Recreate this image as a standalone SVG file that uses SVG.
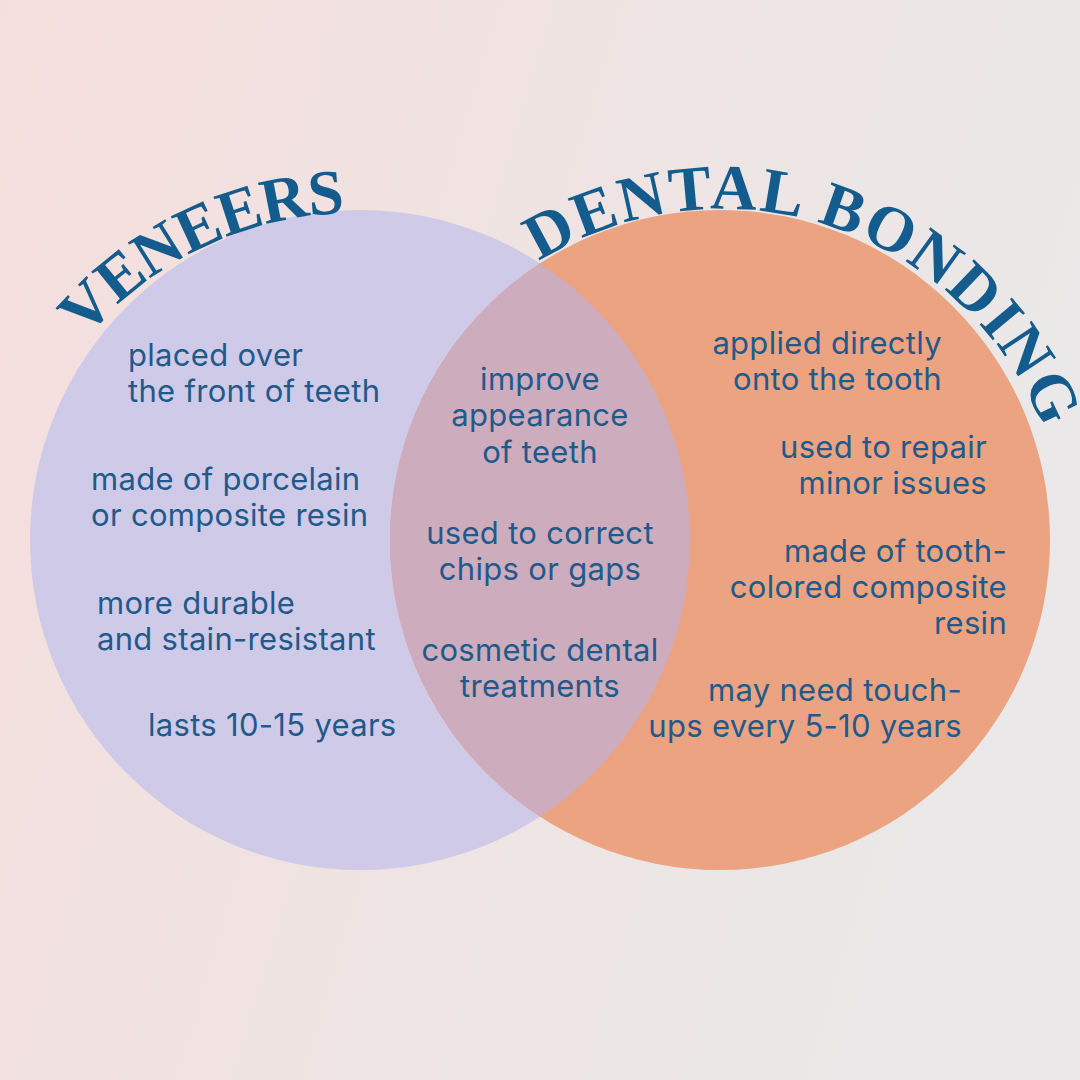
<svg xmlns="http://www.w3.org/2000/svg" xmlns:xlink="http://www.w3.org/1999/xlink" width="1080" height="1080" viewBox="0 0 1080 1080">
<style>
.title{font-family:"Liberation Serif","DejaVu Serif",serif;font-weight:bold;fill:#135C8D;font-size:64px}
.t1{letter-spacing:-1px}.t2{letter-spacing:2px}
.body{font-family:Inter,"Liberation Sans",sans-serif;fill:#1F5A8B;font-size:31px;letter-spacing:0.3px}
.l{text-anchor:start}.m{text-anchor:middle}.r{text-anchor:end}
</style>
<defs>
<linearGradient id="bg" x1="0" y1="0" x2="1" y2="0.3">
<stop offset="0" stop-color="#F5DFDD"/>
<stop offset="1" stop-color="#EAE8E8"/>
</linearGradient>
<path id="arcL" d="M 3 565 A 352 352 0 0 1 707 565"/>
<path id="arcR" d="M 377 554 A 345 345 0 0 1 1067 554"/>
</defs>
<rect width="1080" height="1080" fill="url(#bg)"/>
<g id="veneers">
<circle cx="360" cy="540" r="330" fill="#D0CAE9"/>
</g>
<g id="bonding">
<circle cx="720" cy="540" r="330" fill="#ECA381"/>
</g>
<g id="overlap">
<path d="M 540 263.4 A 330 330 0 0 1 540 816.6 A 330 330 0 0 1 540 263.4 Z" fill="#CDACBE"/>
</g>
<g id="title-veneers"><text class="title t1"><textPath href="#arcL" startOffset="394" text-anchor="middle">VENEERS</textPath></text></g>
<g id="title-bonding"><text class="title t2"><textPath href="#arcR" startOffset="653" text-anchor="middle">DENTAL BONDING</textPath></text></g>
<g id="left-items" class="body">
<text class="l" x="128" y="366">placed over</text>
<text class="l" x="128" y="402">the front of teeth</text>
<text class="l" x="91" y="490">made of porcelain</text>
<text class="l" x="91" y="526">or composite resin</text>
<text class="l" x="97" y="614">more durable</text>
<text class="l" x="97" y="650">and stain-resistant</text>
<text class="l" x="148" y="736">lasts 10-15 years</text>
</g>
<g id="middle-items" class="body">
<text class="m" x="540" y="390">improve</text>
<text class="m" x="540" y="426">appearance</text>
<text class="m" x="540" y="463">of teeth</text>
<text class="m" x="540" y="544">used to correct</text>
<text class="m" x="540" y="580">chips or gaps</text>
<text class="m" x="540" y="661">cosmetic dental</text>
<text class="m" x="540" y="697">treatments</text>
</g>
<g id="right-items" class="body">
<text class="r" x="942" y="354">applied directly</text>
<text class="r" x="942" y="390">onto the tooth</text>
<text class="r" x="987" y="458">used to repair</text>
<text class="r" x="987" y="494">minor issues</text>
<text class="r" x="1007" y="562">made of tooth-</text>
<text class="r" x="1007" y="598">colored composite</text>
<text class="r" x="1007" y="634">resin</text>
<text class="r" x="962" y="701">may need touch-</text>
<text class="r" x="962" y="737">ups every 5-10 years</text>
</g>
<g id="connectors"></g>
</svg>
